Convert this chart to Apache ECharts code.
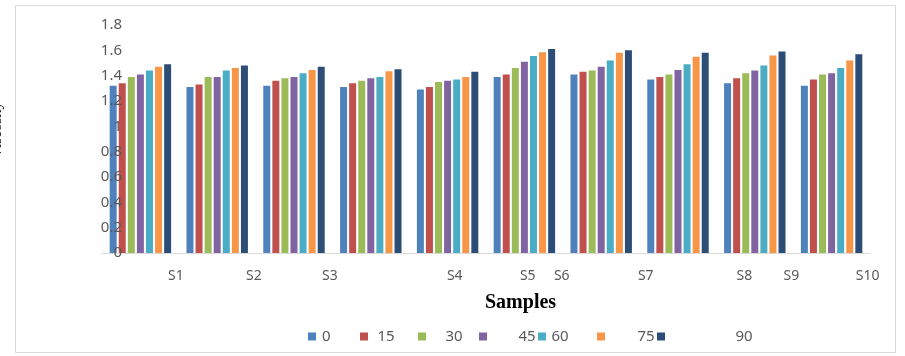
<html>
<head>
<meta charset="UTF-8">
<script src="https://cdn.jsdelivr.net/npm/echarts@6/dist/echarts.min.js"></script>
<title>Samples</title>
<style>
	body { margin: 0; background: #fff; }
	#main { width: 905px; height: 356px; }
</style>
</head>
<body>
	<div id="main"></div>
</body>
<script type="text/javascript">
	// data
	var categories = ['S1', 'S2', 'S3', 'S4', 'S5', 'S6', 'S7', 'S8', 'S9', 'S10'];
	var seriesNames = ['0', '15', '30', '45', '60', '75', '90'];
	var v0  = [1.32, 1.31, 1.32, 1.31, 1.29, 1.39, 1.41, 1.37, 1.34, 1.32];
	var v15 = [1.34, 1.33, 1.36, 1.34, 1.31, 1.41, 1.43, 1.39, 1.38, 1.37];
	var v30 = [1.39, 1.39, 1.38, 1.36, 1.35, 1.46, 1.44, 1.41, 1.42, 1.41];
	var v45 = [1.41, 1.39, 1.39, 1.38, 1.36, 1.51, 1.47, 1.445, 1.44, 1.42];
	var v60 = [1.44, 1.44, 1.42, 1.39, 1.37, 1.555, 1.52, 1.49, 1.48, 1.46];
	var v75 = [1.47, 1.46, 1.445, 1.435, 1.39, 1.585, 1.58, 1.55, 1.56, 1.52];
	var v90 = [1.49, 1.48, 1.47, 1.45, 1.43, 1.61, 1.60, 1.58, 1.59, 1.57];
	var values = [v0, v15, v30, v45, v60, v75, v90];
	// tick labels sit where the original put them (in category units)
	var tickLabels = ['S1', 'S2', 'S3', 'S4', 'S5', 'S6', 'S7', 'S8', 'S9', 'S10'];
	var tickPos = [0.962, 1.977, 2.967, 4.593, 5.544, 5.986, 7.08, 8.365, 8.977, 9.968];

	var colors = ['#4F81BD', '#C0504D', '#9BBB59', '#8064A2', '#4BACC6', '#F79646', '#2C4D75'];
	var legendLeft = [308, 360, 418, 479, 538, 597, 657];
	var legendPad = [1, 4.5, 14.5, 26.5, 0.5, 27.5, 65.5];

	var series = [];
	var legends = [];
	for (var i = 0; i < seriesNames.length; i++) {
		series.push({
			name : seriesNames[i],
			type : 'bar',
			xAxisIndex : 0,
			data : values[i],
			barGap : '30%',
			barCategoryGap : '20%',
			itemStyle : { color : colors[i] }
		});
		legends.push({
			data : [ seriesNames[i] ],
			left : legendLeft[i],
			top : 329,
			padding : 0,
			icon : 'rect',
			itemWidth : 8,
			itemHeight : 8,
			formatter : '{p|{name}}',
			textStyle : {
				color : '#595959',
				fontSize : 15,
				fontFamily : 'Noto Sans',
				rich : { p : { padding : [0, 0, 0, legendPad[i]], fontSize : 15, color : '#595959' } }
			}
		});
	}

	var myChart = echarts.init(document.getElementById('main'));
	var option = {
		animation : false,
		backgroundColor : '#fff',
		title : {
			text : 'Samples',
			left : 485,
			top : 293,
			padding : 0,
			textStyle : {
				fontFamily : 'Liberation Serif',
				fontWeight : 'bold',
				fontSize : 20,
				color : '#000'
			}
		},
		legend : legends,
		grid : { left : 102, right : 35, top : 25, bottom : 103 },
		xAxis : [ {
			type : 'category',
			data : categories,
			axisLine : { lineStyle : { color : '#d9d9d9' } },
			axisTick : { show : false },
			axisLabel : { show : false }
		}, {
			type : 'value',
			position : 'bottom',
			min : 0,
			max : 10,
			axisLine : { show : false },
			axisTick : { show : false },
			splitLine : { show : false },
			axisLabel : {
				customValues : tickPos,
				margin : 16,
				color : '#595959',
				fontSize : 14,
				fontFamily : 'Noto Sans',
				formatter : function(v) {
					var k = tickPos.indexOf(v);
					return k >= 0 ? tickLabels[k] : '';
				}
			}
		} ],
		yAxis : {
			type : 'value',
			min : 0,
			max : 1.8,
			interval : 0.2,
			z : 5,
			axisLine : { show : false },
			axisTick : { show : false },
			splitLine : { show : false },
			axisLabel : {
				margin : -20,
				color : '#595959',
				fontSize : 15,
				fontFamily : 'Noto Sans'
			}
		},
		graphic : [ {
			type : 'rect',
			shape : { x : 15.5, y : 5.5, width : 880, height : 347 },
			style : { fill : 'none', stroke : '#d9d9d9', lineWidth : 1 }
		}, {
			type : 'text',
			x : 5,
			y : 130,
			rotation : Math.PI / 2,
			style : {
				text : 'Viscosity',
				fontSize : 15,
				fontFamily : 'Liberation Serif',
				fill : '#000',
				textAlign : 'center',
				textVerticalAlign : 'bottom'
			}
		} ],
		series : series
	};
	myChart.setOption(option);
</script>
</html>
